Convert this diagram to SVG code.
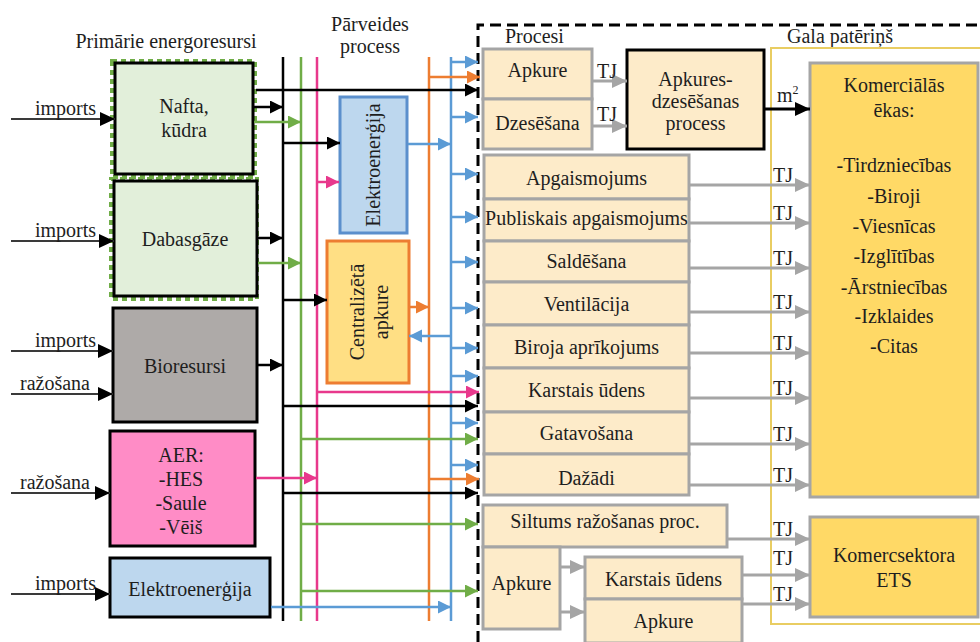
<svg xmlns="http://www.w3.org/2000/svg" width="980" height="642" viewBox="0 0 980 642" font-family="'Liberation Serif', 'Times New Roman', serif">
<style>
text{font-family:'Liberation Serif','Times New Roman',serif;font-size:20px;fill:#1e1e1e}
.c{text-anchor:middle}
.bk{stroke:#000;stroke-width:2.5;fill:none}
.gr{stroke:#70ad47;stroke-width:2.5;fill:none}
.pk{stroke:#e8388c;stroke-width:2.5;fill:none}
.or{stroke:#ed7d31;stroke-width:2.5;fill:none}
.bl{stroke:#5b9bd5;stroke-width:2.5;fill:none}
.gy{stroke:#a5a5a5;stroke-width:3;fill:none}
.im{stroke:#3a3a3a;stroke-width:1.8;fill:none}
.proc{fill:#fdebc9;stroke:#a5a5a5;stroke-width:3}
.fin{fill:#ffd966;stroke:#a5a5a5;stroke-width:3}
.src{stroke:#000;stroke-width:3}
</style>
<defs>
<marker id="aBk" markerUnits="userSpaceOnUse" markerWidth="14" markerHeight="14" refX="13" refY="6.5" orient="auto"><path d="M0,0 L13,6.5 L0,13 z" fill="#000"/></marker>
<marker id="aIm" markerUnits="userSpaceOnUse" markerWidth="16" markerHeight="16" refX="15" refY="7" orient="auto"><path d="M0,0 L15,7 L0,14 z" fill="#000"/></marker>
<marker id="aGr" markerUnits="userSpaceOnUse" markerWidth="14" markerHeight="14" refX="13" refY="6.5" orient="auto"><path d="M0,0 L13,6.5 L0,13 z" fill="#70ad47"/></marker>
<marker id="aPk" markerUnits="userSpaceOnUse" markerWidth="14" markerHeight="14" refX="13" refY="6.5" orient="auto"><path d="M0,0 L13,6.5 L0,13 z" fill="#e8388c"/></marker>
<marker id="aOr" markerUnits="userSpaceOnUse" markerWidth="14" markerHeight="14" refX="13" refY="6.5" orient="auto"><path d="M0,0 L13,6.5 L0,13 z" fill="#ed7d31"/></marker>
<marker id="aBl" markerUnits="userSpaceOnUse" markerWidth="14" markerHeight="14" refX="13" refY="6.5" orient="auto"><path d="M0,0 L13,6.5 L0,13 z" fill="#5b9bd5"/></marker>
<marker id="aGy" markerUnits="userSpaceOnUse" markerWidth="16" markerHeight="16" refX="15" refY="7" orient="auto"><path d="M0,0 L15,7 L0,14 z" fill="#a5a5a5"/></marker>
</defs>
<rect width="980" height="642" fill="#fff"/>

<!-- section titles -->
<text class="c" x="166" y="48">Primārie energoresursi</text>
<text class="c" x="370" y="31">Pārveides</text>
<text class="c" x="370" y="53">process</text>
<text x="505" y="43">Procesi</text>
<text x="787" y="43">Gala patēriņš</text>

<!-- frames -->
<path d="M478,642 V25 H985" fill="none" stroke="#000" stroke-width="3" stroke-dasharray="11 6"/>
<rect x="771" y="48" width="225" height="576" fill="none" stroke="#e9cd62" stroke-width="2"/>

<!-- primary sources -->
<g id="nafta">
<rect x="112" y="61" width="143" height="116" fill="none" stroke="#70ad47" stroke-width="4" stroke-dasharray="5 4"/>
<rect x="115" y="63" width="138" height="111" fill="#e2efda" class="src"/>
<text class="c" x="184" y="113">Nafta,</text>
<text class="c" x="184" y="137">kūdra</text>
</g>
<g id="dabasgaze">
<rect x="111" y="179" width="146" height="120" fill="none" stroke="#70ad47" stroke-width="4" stroke-dasharray="5 4"/>
<rect x="114" y="181" width="143" height="115" fill="#e2efda" class="src"/>
<text class="c" x="185" y="246">Dabasgāze</text>
</g>
<g id="bioresursi">
<rect x="113" y="308" width="144" height="114" fill="#aeaaa8" class="src"/>
<text class="c" x="185" y="373">Bioresursi</text>
</g>
<g id="aer">
<rect x="110" y="431" width="145" height="115" fill="#ff8cc6" class="src"/>
<text class="c" x="181" y="462">AER:</text>
<text class="c" x="181" y="486">-HES</text>
<text class="c" x="181" y="510">-Saule</text>
<text class="c" x="181" y="534">-Vēiš</text>
</g>
<g id="elektro-src">
<rect x="110" y="558" width="160" height="59" fill="#bdd7ee" class="src"/>
<text class="c" x="190" y="596">Elektroenerģija</text>
</g>

<!-- conversion -->
<g id="elektro-conv">
<rect x="340" y="97" width="67" height="136" fill="#bdd7ee" stroke="#5b8fcc" stroke-width="3"/>
<text class="c" transform="translate(373,165) rotate(-90)" dominant-baseline="central">Elektroenerģija</text>
</g>
<g id="centralizeta">
<rect x="327" y="241" width="82" height="142" fill="#ffdf84" stroke="#ed7d31" stroke-width="3"/>
<text class="c" transform="translate(357,312) rotate(-90)" dominant-baseline="central">Centralizētā</text>
<text class="c" transform="translate(381,312) rotate(-90)" dominant-baseline="central">apkure</text>
</g>

<!-- processes -->
<g id="p-apkure"><rect class="proc" x="483" y="49" width="109" height="50"/><text class="c" x="537.5" y="77">Apkure</text></g>
<g id="p-dzesesana"><rect class="proc" x="483" y="99" width="109" height="50"/><text class="c" x="537.5" y="130">Dzesēšana</text></g>
<g id="p-apkdz"><rect x="627" y="50" width="137" height="99" fill="#fdebc9" stroke="#000" stroke-width="3"/>
<text class="c" x="695.5" y="86">Apkures-</text><text class="c" x="695.5" y="108">dzesēšanas</text><text class="c" x="695.5" y="130">process</text></g>
<g id="p-apgaism"><rect class="proc" x="484" y="155" width="205" height="44"/><text class="c" x="586.5" y="185">Apgaismojums</text></g>
<g id="p-publ"><rect class="proc" x="484" y="199" width="205" height="42"/><text class="c" x="586.5" y="225">Publiskais apgaismojums</text></g>
<g id="p-salde"><rect class="proc" x="484" y="241" width="205" height="41"/><text class="c" x="586.5" y="268">Saldēšana</text></g>
<g id="p-vent"><rect class="proc" x="484" y="282" width="205" height="43"/><text class="c" x="586.5" y="311">Ventilācija</text></g>
<g id="p-biroja"><rect class="proc" x="484" y="325" width="205" height="43"/><text class="c" x="586.5" y="354">Biroja aprīkojums</text></g>
<g id="p-karst"><rect class="proc" x="484" y="368" width="205" height="44"/><text class="c" x="586.5" y="397">Karstais ūdens</text></g>
<g id="p-gatav"><rect class="proc" x="484" y="412" width="205" height="42"/><text class="c" x="586.5" y="440">Gatavošana</text></g>
<g id="p-dazadi"><rect class="proc" x="484" y="454" width="205" height="41"/><text class="c" x="586.5" y="485">Dažādi</text></g>
<g id="p-siltums"><rect class="proc" x="483" y="505" width="244" height="42"/><text class="c" x="605" y="528">Siltums ražošanas proc.</text></g>
<g id="p-apkure2"><rect class="proc" x="483" y="547" width="77" height="82"/><text class="c" x="521.5" y="590">Apkure</text></g>
<g id="p-karst2"><rect class="proc" x="585" y="557" width="157" height="42"/><text class="c" x="663.5" y="586">Karstais ūdens</text></g>
<g id="p-apkure3"><rect class="proc" x="585" y="599" width="157" height="44"/><text class="c" x="663.5" y="628">Apkure</text></g>

<!-- final consumption -->
<g id="komercialas">
<rect class="fin" x="810" y="63" width="168" height="434"/>
<text class="c" x="894" y="92">Komerciālās</text>
<text class="c" x="894" y="117">ēkas:</text>
<text class="c" x="894" y="172">-Tirdzniecības</text>
<text class="c" x="894" y="203">-Biroji</text>
<text class="c" x="894" y="233">-Viesnīcas</text>
<text class="c" x="894" y="263">-Izglītības</text>
<text class="c" x="894" y="294">-Ārstniecības</text>
<text class="c" x="894" y="323">-Izklaides</text>
<text class="c" x="894" y="353">-Citas</text>
</g>
<g id="ets">
<rect class="fin" x="810" y="517" width="168" height="100"/>
<text class="c" x="894" y="562">Komercsektora</text>
<text class="c" x="894" y="587">ETS</text>
</g>

<!-- connectors -->
<g id="connectors">
<path class="im" d="M11,119 H115" marker-end="url(#aIm)"/>
<path class="im" d="M11,241 H114" marker-end="url(#aIm)"/>
<path class="im" d="M11,351 H113" marker-end="url(#aIm)"/>
<path class="im" d="M11,394 H113" marker-end="url(#aIm)"/>
<path class="im" d="M11,493 H110" marker-end="url(#aIm)"/>
<path class="im" d="M11,594 H110" marker-end="url(#aIm)"/>
<text x="35" y="115">imports</text>
<text x="35" y="237">imports</text>
<text x="35" y="347">imports</text>
<text x="20" y="390">ražošana</text>
<text x="20" y="489">ražošana</text>
<text x="35" y="590">imports</text>

<path class="bk" d="M283,57 V621"/>
<path class="gr" d="M301,57 V621"/>
<path class="pk" d="M317,57 V621"/>
<path class="or" d="M429,57 V621"/>
<path class="bl" d="M451,57 V621"/>

<path class="bk" d="M256,90 H478" marker-end="url(#aBk)"/>
<path class="bk" d="M254,107 H283" marker-end="url(#aBk)"/>
<path class="bk" d="M283,143 H340" marker-end="url(#aBk)"/>
<path class="bk" d="M258,238 H283" marker-end="url(#aBk)"/>
<path class="bk" d="M283,300 H327" marker-end="url(#aBk)"/>
<path class="bk" d="M258,365 H283" marker-end="url(#aBk)"/>
<path class="bk" d="M283,406 H478" marker-end="url(#aBk)"/>
<path class="bk" d="M283,493 H478" marker-end="url(#aBk)"/>
<path class="gr" d="M254,122 H301" marker-end="url(#aGr)"/>
<path class="gr" d="M258,263 H301" marker-end="url(#aGr)"/>
<path class="gr" d="M301,439 H478" marker-end="url(#aGr)"/>
<path class="gr" d="M301,524 H478" marker-end="url(#aGr)"/>
<path class="gr" d="M301,591 H478" marker-end="url(#aGr)"/>
<path class="pk" d="M317,182 H339" marker-end="url(#aPk)"/>
<path class="pk" d="M317,392 H479" marker-end="url(#aPk)"/>
<path class="pk" d="M256,478 H317" marker-end="url(#aPk)"/>
<path class="or" d="M429,77 H480" marker-end="url(#aOr)"/>
<path class="or" d="M410,307 H429" marker-end="url(#aOr)"/>
<path class="or" d="M429,479 H479" marker-end="url(#aOr)"/>
<path class="bl" d="M451,62 H478" marker-end="url(#aBl)"/>
<path class="bl" d="M451,117 H478" marker-end="url(#aBl)"/>
<path class="bl" d="M408,144 H451" marker-end="url(#aBl)"/>
<path class="bl" d="M451,174 H478" marker-end="url(#aBl)"/>
<path class="bl" d="M451,217 H478" marker-end="url(#aBl)"/>
<path class="bl" d="M451,262 H478" marker-end="url(#aBl)"/>
<path class="bl" d="M451,308 H478" marker-end="url(#aBl)"/>
<path class="bl" d="M451,336 H409" marker-end="url(#aBl)"/>
<path class="bl" d="M451,348 H478" marker-end="url(#aBl)"/>
<path class="bl" d="M451,376 H478" marker-end="url(#aBl)"/>
<path class="bl" d="M451,423 H478" marker-end="url(#aBl)"/>
<path class="bl" d="M451,465 H478" marker-end="url(#aBl)"/>
<path class="bl" d="M271,607 H451" marker-end="url(#aBl)"/>

<path class="gy" d="M593,81 H627" marker-end="url(#aGy)"/>
<path class="gy" d="M593,126 H627" marker-end="url(#aGy)"/>
<text x="597" y="78">TJ</text>
<text x="597" y="121">TJ</text>
<path d="M765,109 H810" stroke="#000" stroke-width="3" fill="none" marker-end="url(#aIm)"/>
<text x="777" y="102">m<tspan font-size="12" dy="-8">2</tspan></text>

<path class="gy" d="M690,185 H810" marker-end="url(#aGy)"/>
<path class="gy" d="M690,223 H810" marker-end="url(#aGy)"/>
<path class="gy" d="M690,268 H810" marker-end="url(#aGy)"/>
<path class="gy" d="M690,312 H810" marker-end="url(#aGy)"/>
<path class="gy" d="M690,353 H810" marker-end="url(#aGy)"/>
<path class="gy" d="M690,398 H810" marker-end="url(#aGy)"/>
<path class="gy" d="M690,444 H810" marker-end="url(#aGy)"/>
<path class="gy" d="M690,485 H810" marker-end="url(#aGy)"/>
<path class="gy" d="M728,539 H810" marker-end="url(#aGy)"/>
<path class="gy" d="M743,575 H810" marker-end="url(#aGy)"/>
<path class="gy" d="M743,604 H810" marker-end="url(#aGy)"/>
<path class="gy" d="M561,567 H585" marker-end="url(#aGy)"/>
<path class="gy" d="M561,612 H585" marker-end="url(#aGy)"/>
<text x="773" y="182">TJ</text>
<text x="773" y="220">TJ</text>
<text x="773" y="265">TJ</text>
<text x="773" y="309">TJ</text>
<text x="773" y="350">TJ</text>
<text x="773" y="395">TJ</text>
<text x="773" y="441">TJ</text>
<text x="773" y="482">TJ</text>
<text x="773" y="536">TJ</text>
<text x="773" y="565">TJ</text>
<text x="773" y="601">TJ</text>
</g>
</svg>
